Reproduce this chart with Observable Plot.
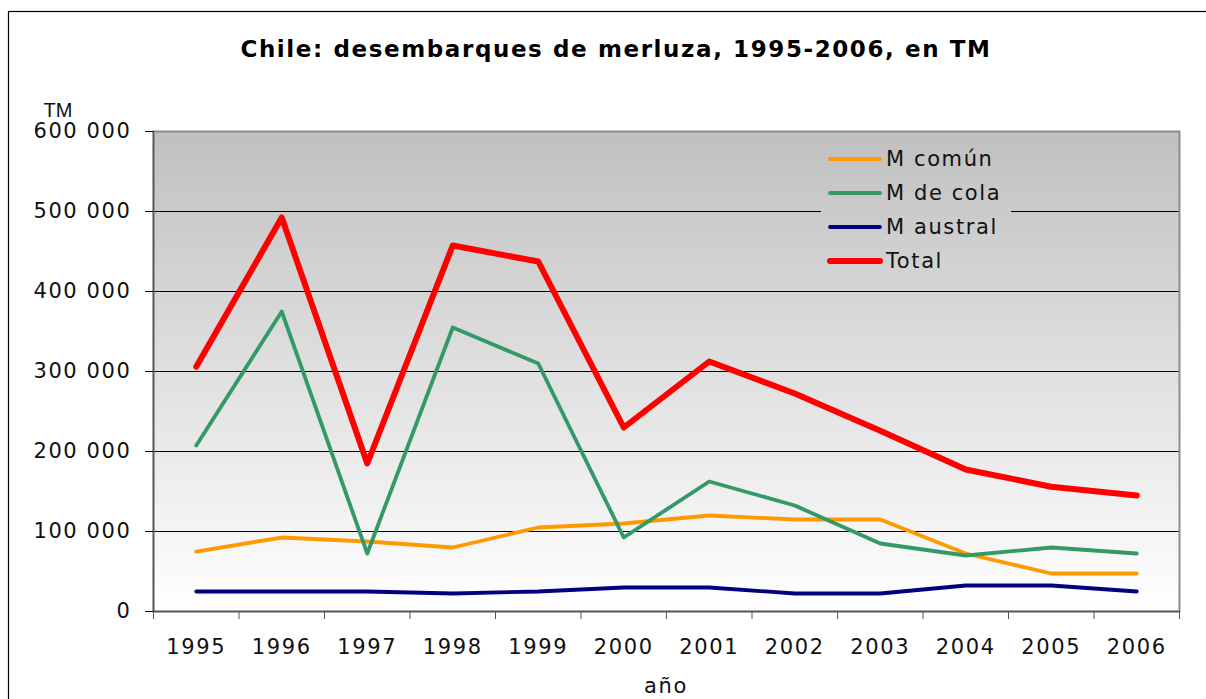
<!DOCTYPE html>
<html><head><meta charset="utf-8">
<script src="https://cdn.jsdelivr.net/npm/d3@7"></script>
<script src="https://cdn.jsdelivr.net/npm/@observablehq/plot@0.6"></script>
<style>
body{margin:0;background:#fff;}
#chart{position:relative;width:1206px;height:699px;overflow:hidden;}
svg text{letter-spacing:1.6px;}
</style></head><body><div id="chart"></div>
<script>
const years = [1995,1996,1997,1998,1999,2000,2001,2002,2003,2004,2005,2006];
const mComun   = [75000,92500,87500,80000,105000,110000,120000,115000,115000,72500,47500,47500];
const mCola    = [207500,375000,72500,355000,310000,92500,162500,132500,85000,70000,80000,72500];
const mAustral = [25000,25000,25000,22500,25000,30000,30000,22500,22500,32500,32500,25000];
const total    = [306000,492500,185000,457500,437500,230000,312500,272500,226000,177500,156000,145000];
const seriesNames = ["M común","M de cola","M austral","Total"];
const seriesColors = ["#FF9900","#339966","#000080","#FF0000"];
const seriesWidths = [3.8,3.8,3.8,6];
const yTicks = [0,100000,200000,300000,400000,500000,600000];
const titleText = "Chile: desembarques de merluza, 1995-2006, en TM";
const yLabel = "TM";
const xLabel = "año";

(function(){
const seriesValues = [mComun, mCola, mAustral, total];
const rows = seriesValues.flatMap((vals,s)=>vals.map((v,i)=>({series:seriesNames[s], i, year:years[i], value:v})));
const fmt = d => d3.format(",")(d).replace(/,/g," ");
const FONT = "DejaVu Sans, Verdana, sans-serif";
const TFONT = "Liberation Sans, Arial, sans-serif";

const plot = Plot.plot({
  width:1206, height:699,
  marginLeft:153, marginRight:27, marginTop:131, marginBottom:88,
  style:{fontFamily:FONT, fontSize:"21px", color:"#000", background:"transparent", overflow:"visible"},
  x:{domain:[0, years.length], axis:null},
  y:{domain:[0,600000], axis:null},
  marks:[
    Plot.frame({fill:"url(#bgGrad)", stroke:null}),
    Plot.gridY(yTicks.slice(1,-1), {stroke:"#000", strokeOpacity:1, strokeWidth:1}),
    Plot.frame({stroke:"#8c8c8c", strokeWidth:2}),
    Plot.ruleX([0], {stroke:"#555", strokeWidth:1.5}),
    Plot.ruleY([0], {stroke:"#555", strokeWidth:1.5}),
    Plot.axisY(yTicks, {tickSize:8, tickPadding:14, tickFormat:fmt, fontSize:21, label:null, stroke:"#000", fill:"#111"}),
    Plot.axisX(d3.range(years.length+1), {tickSize:8, tickFormat:()=>"", label:null, stroke:"#555"}),
    Plot.axisX(years.map((y,i)=>i+0.5), {tickSize:0, tickPadding:28, tickFormat:d=>String(years[Math.floor(d)]), fontSize:21, label:null, fill:"#111"}),
    ...seriesNames.map((name,s)=>Plot.line(rows.filter(r=>r.series===name), {
      x:r=>r.i+0.5, y:"value", stroke:seriesColors[s], strokeWidth:seriesWidths[s],
      strokeLinejoin:"round", strokeLinecap:"round"}))
  ]
});
document.getElementById("chart").appendChild(plot);

const svg = d3.select(plot);
const ys = plot.scale("y"), xs = plot.scale("x");
const yTop = ys.apply(600000), yBot = ys.apply(0);
const xLeft = xs.apply(0), xRight = xs.apply(years.length);
const defs = svg.insert("defs", ":first-child");
const g1 = defs.append("linearGradient").attr("id","bgGrad").attr("x1",0).attr("y1",0).attr("x2",0).attr("y2",1);
g1.append("stop").attr("offset","0%").attr("stop-color","#c0c0c0");
g1.append("stop").attr("offset","100%").attr("stop-color","#ffffff");
const g2 = defs.append("linearGradient").attr("id","bgGradU").attr("gradientUnits","userSpaceOnUse")
  .attr("x1",0).attr("y1",yTop).attr("x2",0).attr("y2",yBot);
g2.append("stop").attr("offset","0%").attr("stop-color","#c0c0c0");
g2.append("stop").attr("offset","100%").attr("stop-color","#ffffff");

svg.append("rect").attr("x",8.5).attr("y",11.5).attr("width",1300).attr("height",800)
  .attr("fill","none").attr("stroke","#000").attr("stroke-width",1.2);

svg.append("text").attr("x",616).attr("y",49).attr("text-anchor","middle").attr("dominant-baseline","central")
  .attr("font-family",FONT).attr("font-weight","bold").attr("font-size",23).attr("fill","#000")
  .style("letter-spacing","1.6px").text(titleText);
svg.append("text").attr("x",58).attr("y",110).attr("text-anchor","middle").attr("dominant-baseline","central")
  .attr("font-family",TFONT).attr("font-size",20).attr("fill","#111").style("letter-spacing","0px").text(yLabel);
svg.append("text").attr("x",(xLeft+xRight)/2).attr("y",686).attr("text-anchor","middle").attr("dominant-baseline","central")
  .attr("font-family",FONT).attr("font-size",21).attr("fill","#111").text(xLabel);

const lg = svg.append("g");
lg.append("rect").attr("x",821).attr("y",141).attr("width",190).attr("height",139).attr("fill","url(#bgGradU)");
seriesNames.forEach((name,s)=>{
  const yy = 159 + s*34;
  lg.append("line").attr("x1",830).attr("x2",880).attr("y1",yy).attr("y2",yy)
    .attr("stroke",seriesColors[s]).attr("stroke-width",seriesWidths[s]).attr("stroke-linecap","round");
  lg.append("text").attr("x",886).attr("y",yy).attr("text-anchor","start").attr("dominant-baseline","central")
    .attr("font-family",FONT).attr("font-size",21).attr("fill","#111").text(name);
});
})();
</script></body></html>
